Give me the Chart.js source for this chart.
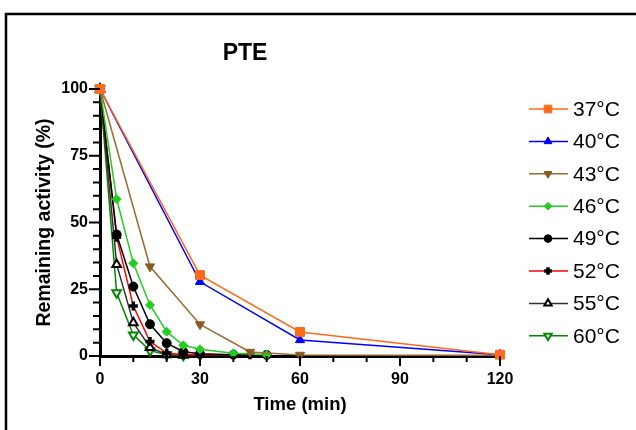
<!DOCTYPE html>
<html>
<head>
<meta charset="utf-8">
<script src="https://cdn.jsdelivr.net/npm/chart.js@4/dist/chart.umd.min.js"></script>
<style>
html,body{margin:0;padding:0;background:#fff;}
#wrap{position:relative;width:636px;height:430px;}
</style>
</head>
<body>
<div id="wrap"><canvas id="c" width="636" height="430"></canvas></div>
<script>
// ---- data ----
const chartTitle = "PTE";
const xTitle = "Time (min)";
const yTitle = "Remaining activity (%)";
const seriesNames = ["37°C","40°C","43°C","46°C","49°C","52°C","55°C","60°C"];
const xTicks = [0, 30, 60, 90, 120];
const yTicks = [0, 25, 50, 75, 100];

const t37 = [0, 30, 60, 120];
const v37 = [100, 30.3, 9, 0.5];
const t40 = [0, 30, 60, 120];
const v40 = [100, 27.8, 6, 0.5];
const t43 = [0, 15, 30, 45, 60, 120];
const v43 = [100, 33.5, 11.8, 1.5, 0.4, 0.3];
const t46 = [0, 5, 10, 15, 20, 25, 30, 40, 50];
const v46 = [100, 58.8, 34.7, 19.1, 9.1, 4, 2.5, 1, 0.5];
const t49 = [0, 5, 10, 15, 20, 25, 30, 40, 50];
const v49 = [100, 45.5, 26, 11.9, 4.8, 1.6, 0.8, 0.5, 0.4];
const t52 = [0, 5, 10, 15, 20, 25, 30, 45];
const v52 = [100, 44.5, 18.7, 5.4, 1.1, 0.5, 0.5, 0.5];
const t55 = [0, 5, 10, 15, 20, 25];
const v55 = [100, 34.3, 12.5, 3.2, 0.5, 0.3];
const t60 = [0, 5, 10, 15, 20, 25];
const v60 = [100, 23.7, 7.9, 2, 0.5, 0.3];

const times = [t37, t40, t43, t46, t49, t52, t55, t60];
const values = [v37, v40, v43, v46, v49, v52, v55, v60];

// ---- styles ----
const styles = [
  {line:'#FF6A1A', pt:'rect', r:6.3, fill:'#FF6A1A', stroke:'#FF6A1A', bw:1, rot:0},
  {line:'#0000FF', pt:'triangle', r:5.3, fill:'#0000FF', stroke:'#0000FF', bw:1, rot:0},
  {line:'#9C6B30', pt:'triangle', r:5.3, fill:'#8B5A22', stroke:'#8B5A22', bw:1, rot:180},
  {line:'#22CC22', pt:'rectRot', r:4.5, fill:'#22CC22', stroke:'#22CC22', bw:1, rot:0},
  {line:'#000000', pt:'circle', r:4.5, fill:'#000000', stroke:'#000000', bw:1, rot:0},
  {line:'#FF0000', pt:'cross', r:4.5, fill:'#000000', stroke:'#000000', bw:3.5, rot:0},
  {line:'#333333', pt:'triangle', r:5, fill:'#FFFFFF', stroke:'#000000', bw:2, rot:0},
  {line:'#008800', pt:'triangle', r:5, fill:'#FFFFFF', stroke:'#008800', bw:2, rot:180}
];

const datasets = seriesNames.map((name, i) => ({
  label: name,
  data: times[i].map((t, k) => ({x: t, y: values[i][k]})),
  borderColor: styles[i].line,
  borderWidth: 1.5,
  pointStyle: styles[i].pt,
  pointRadius: styles[i].r,
  pointBackgroundColor: styles[i].fill,
  pointBorderColor: styles[i].stroke,
  pointBorderWidth: styles[i].bw,
  pointRotation: styles[i].rot,
  pointHoverRadius: styles[i].r,
  tension: 0,
  fill: false,
  clip: false
}));

const decor = {
  id: 'decor',
  beforeDraw(chart) {
    const ctx = chart.ctx;
    ctx.save();
    ctx.fillStyle = '#fff';
    ctx.fillRect(0, 0, chart.width, chart.height);
    ctx.strokeStyle = '#000';
    ctx.lineWidth = 2.5;
    ctx.beginPath();
    ctx.moveTo(6, 440);
    ctx.lineTo(6, 14);
    ctx.lineTo(640, 14);
    ctx.stroke();
    // title
    ctx.fillStyle = '#000';
    ctx.font = 'bold 23px "Liberation Sans", Arial, sans-serif';
    ctx.textAlign = 'center';
    ctx.textBaseline = 'alphabetic';
    ctx.fillText(chartTitle, 245, 59.5);
    ctx.restore();
  },
  afterDraw(chart) {
    const ctx = chart.ctx;
    const xs = chart.scales.x, ys = chart.scales.y;
    ctx.save();
    ctx.strokeStyle = '#000';
    ctx.lineWidth = 2;
    ctx.beginPath();
    for (let v = 0; v <= 120; v += 10) {
      const px = xs.getPixelForValue(v);
      const len = (v % 30 === 0) ? 10 : 6;
      ctx.moveTo(px, ys.bottom);
      ctx.lineTo(px, ys.bottom + len);
    }
    for (let v = 0; v <= 100; v += 5) {
      const py = ys.getPixelForValue(v);
      const len = (v % 25 === 0) ? 11 : 7;
      ctx.moveTo(xs.left, py);
      ctx.lineTo(xs.left - len, py);
    }
    ctx.stroke();
    // legend
    const lx0 = 529, lx1 = 568, mx = 548, tx = 573;
    ctx.font = '21px "Liberation Sans", Arial, sans-serif';
    ctx.textAlign = 'left';
    ctx.textBaseline = 'middle';
    chart.data.datasets.forEach((ds, i) => {
      const y = 109 + i * 32.4;
      ctx.strokeStyle = ds.borderColor;
      ctx.lineWidth = 1.5;
      ctx.beginPath();
      ctx.moveTo(lx0, y);
      ctx.lineTo(lx1, y);
      ctx.stroke();
      ctx.fillStyle = ds.pointBackgroundColor;
      ctx.strokeStyle = ds.pointBorderColor;
      ctx.lineWidth = ds.pointBorderWidth;
      const r = ds.pointRadius * 0.85;
      Chart.helpers.drawPoint(ctx, {pointStyle: ds.pointStyle, rotation: ds.pointRotation, radius: r, borderWidth: ds.pointBorderWidth}, mx, y);
      ctx.fillStyle = '#000';
      ctx.fillText(ds.label, tx, y + 1);
    });
    ctx.restore();
  }
};

new Chart(document.getElementById('c'), {
  type: 'line',
  data: { datasets },
  options: {
    responsive: false,
    animation: false,
    devicePixelRatio: 1,
    layout: { padding: { top: 89, right: 136, left: 0, bottom: 0 } },
    plugins: { legend: { display: false }, tooltip: { enabled: false }, title: { display: false } },
    scales: {
      x: {
        type: 'linear',
        min: 0, max: 120,
        afterFit(s) { s.height = 74; },
        afterBuildTicks(s) { s.ticks = xTicks.map(v => ({value: v})); },
        grid: { display: false, drawTicks: false },
        border: { display: true, color: '#000', width: 3 },
        ticks: { color: '#000', padding: 14, maxRotation: 0, font: { family: '"Liberation Sans", Arial, sans-serif', size: 16, weight: 'bold' } },
        title: { display: true, text: xTitle, color: '#000', padding: { top: 0, bottom: 14 }, font: { family: '"Liberation Sans", Arial, sans-serif', size: 18.5, weight: 'bold' } }
      },
      y: {
        type: 'linear',
        min: 0, max: 100,
        afterFit(s) { s.width = 100; },
        afterBuildTicks(s) { s.ticks = yTicks.map(v => ({value: v})); },
        grid: { display: false, drawTicks: false },
        border: { display: true, color: '#000', width: 3 },
        ticks: { color: '#000', padding: 12, font: { family: '"Liberation Sans", Arial, sans-serif', size: 16, weight: 'bold' } },
        title: { display: true, text: yTitle, color: '#000', padding: { top: 33, bottom: 0 }, font: { family: '"Liberation Sans", Arial, sans-serif', size: 19.5, weight: 'bold' } }
      }
    }
  },
  plugins: [decor]
});
</script>
</body>
</html>
